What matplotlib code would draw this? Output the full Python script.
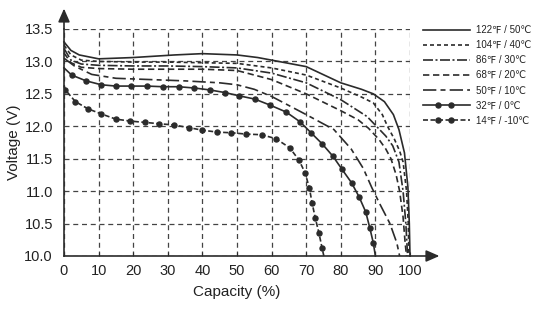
import matplotlib.pyplot as plt
from matplotlib.lines import Line2D
from matplotlib.legend_handler import HandlerLine2D
import numpy as np

plt.rcParams['font.family'] = ['Liberation Sans', 'DejaVu Sans']

# capacity (%) / voltage (V)
x_122 = [0, 2, 4.4, 10, 20, 32, 40, 50, 56, 61, 70, 80, 86, 89.4, 92.6, 95.2, 96.8, 98.4, 99.4, 99.8, 100]
v_122 = [13.30, 13.17, 13.10, 13.04, 13.06, 13.10, 13.12, 13.10, 13.06, 13.01, 12.92, 12.67, 12.57, 12.50, 12.38, 12.18, 11.95, 11.59, 11.06, 10.5, 10.0]

x_104 = [0, 2, 5, 10, 20, 30, 40, 50, 60, 70, 80, 86, 89.4, 92, 93.5, 95.5, 97, 98, 99, 99.5, 99.7]
v_104 = [13.25, 13.10, 13.02, 13.00, 12.99, 12.99, 12.98, 12.97, 12.90, 12.79, 12.59, 12.45, 12.36, 12.18, 12.0, 11.8, 11.62, 11.45, 11.0, 10.5, 10.0]

x_86 = [0, 2, 5, 10, 20, 30, 40, 50, 60, 70, 80, 87.6, 90.3, 93, 95, 96.8, 98, 98.8, 99.3]
v_86 = [13.20, 13.02, 12.96, 12.94, 12.93, 12.93, 12.92, 12.90, 12.82, 12.67, 12.41, 12.15, 12.0, 11.85, 11.7, 11.45, 11.0, 10.5, 10.0]

x_68 = [0, 2, 5, 10, 20, 30, 40, 50, 60, 70, 80, 85, 88, 91, 93, 94.5, 96, 97, 98, 98.6, 99]
v_68 = [13.13, 12.98, 12.91, 12.89, 12.88, 12.88, 12.88, 12.86, 12.72, 12.50, 12.24, 12.10, 11.97, 11.8, 11.65, 11.5, 11.25, 11.0, 10.6, 10.2, 10.0]

x_50 = [0, 3, 8, 15, 25, 35, 45, 50, 55, 60, 70, 78, 83, 86.5, 89, 91.3, 94.2, 96.2, 97]
v_50 = [13.05, 12.93, 12.80, 12.74, 12.72, 12.70, 12.67, 12.64, 12.57, 12.46, 12.18, 11.95, 11.65, 11.35, 11.05, 10.8, 10.5, 10.2, 10.0]

x_32 = [0, 2.2, 6.4, 10.8, 15, 19.4, 23.9, 28.6, 33.1, 37.7, 42.2, 46.5, 50.6, 55.1, 59.4, 64.2,
        68.2, 71.4, 74.6, 77.7, 80.3, 83.1, 85.3, 87.2, 88.4, 89.4, 90]
v_32 = [12.90, 12.79, 12.70, 12.64, 12.62, 12.62, 12.62, 12.61, 12.61, 12.59, 12.56, 12.52, 12.47, 12.42, 12.33, 12.22,
        12.07, 11.90, 11.73, 11.54, 11.34, 11.13, 10.91, 10.68, 10.43, 10.20, 10.0]

x_14 = [0, 0.4, 3.3, 6.9, 10.8, 15, 19.2, 23.3, 27.5, 31.7, 36, 40, 44.3, 48.4, 52.6, 57.1, 61.2, 65.2,
        67.9, 69.7, 70.9, 71.7, 72.6, 73.7, 74.6, 75.1]
v_14 = [12.63, 12.56, 12.38, 12.27, 12.19, 12.11, 12.08, 12.06, 12.04, 12.02, 11.98, 11.94, 11.91, 11.90, 11.88, 11.87, 11.81, 11.67,
        11.48, 11.28, 11.05, 10.82, 10.59, 10.35, 10.12, 10.0]

labels = ["122\u2109 / 50\u2103", "104\u2109 / 40\u2103", "86\u2109 / 30\u2103", "68\u2109 / 20\u2103",
          "50\u2109 / 10\u2103", "32\u2109 / 0\u2103", "14\u2109 / -10\u2103"]

xticks = [0, 10, 20, 30, 40, 50, 60, 70, 80, 90, 100]
yticks = [10.0, 10.5, 11.0, 11.5, 12.0, 12.5, 13.0, 13.5]

col = "#2b2b2b"
lw = 1.2
styles = [
    "-",
    (0, (2.4, 1.8)),
    (0, (6, 1.5, 1.2, 1.5)),
    (0, (3.8, 2.2)),
    (0, (8, 2.5, 3, 2.5)),
    "-",
    (0, (3, 1.5)),
]


class DotLineHandler(HandlerLine2D):
    ## full-width line with two dots at about 1/3 and 2/3
    def create_artists(self, legend, orig_handle, xdescent, ydescent, width, height, fontsize, trans):
        y = height / 2.0 - ydescent
        line = Line2D([-xdescent, width - xdescent], [y, y])
        line.update_from(orig_handle)
        line.set_marker("None")
        dots = Line2D([width * 0.33 - xdescent, width * 0.6 - xdescent], [y, y])
        dots.update_from(orig_handle)
        dots.set_linestyle("None")
        line.set_transform(trans)
        dots.set_transform(trans)
        return [line, dots]


fig = plt.figure(figsize=(5.39, 3.22), dpi=100)
ax = fig.add_axes([64 / 539, 66 / 322, 346 / 539, 227 / 322])

series = [(x_122, v_122), (x_104, v_104), (x_86, v_86), (x_68, v_68), (x_50, v_50), (x_32, v_32), (x_14, v_14)]
for i, (xs, vs) in enumerate(series):
    ax.plot(xs, vs, color=col, lw=lw, ls=styles[i], clip_on=False, zorder=3)
    if i >= 5:
        ax.plot(xs[1:-1], vs[1:-1], ls="none", marker="o", ms=3.6, color=col, zorder=4)

ax.set_xlim(0, 100)
ax.set_ylim(10, 13.5)
ax.set_xticks(xticks)
ax.set_yticks(yticks)
ax.set_yticklabels(["%.1f" % v for v in yticks])
ax.grid(True, color="#444444", ls=(0, (4, 3)), lw=0.9)
for s in ["top", "right"]:
    ax.spines[s].set_visible(False)
for s in ["left", "bottom"]:
    ax.spines[s].set_color(col)
    ax.spines[s].set_linewidth(1.2)
ax.tick_params(axis="y", length=0, pad=8, labelsize=10.5, labelcolor="#222222")
ax.tick_params(axis="x", length=3, direction="in", pad=6, labelsize=10.5, labelcolor="#222222", color=col)
ax.set_xlabel("Capacity (%)", fontsize=11, color="#222222", labelpad=5)
ax.set_ylabel("Voltage (V)", fontsize=11, color="#222222", labelpad=2)

# axis arrows
ax.annotate("", xy=(1.085, 0), xytext=(1.0, 0), xycoords="axes fraction",
            arrowprops=dict(arrowstyle="-|>,head_length=0.8,head_width=0.35", color=col, lw=1.2,
                            shrinkA=0, shrinkB=0))
ax.annotate("", xy=(0, 1.09), xytext=(0, 1.0), xycoords="axes fraction",
            arrowprops=dict(arrowstyle="-|>,head_length=0.8,head_width=0.35", color=col, lw=1.2,
                            shrinkA=0, shrinkB=0))

handles = []
for i in range(7):
    if i >= 5:
        h = Line2D([], [], color=col, lw=lw, ls=styles[i], marker="o", ms=3.6)
    else:
        h = Line2D([], [], color=col, lw=lw, ls=styles[i])
    handles.append(h)
leg = fig.legend(handles, labels, loc="upper left", bbox_to_anchor=(423 / 539, 1 - 25 / 322),
                 frameon=False, fontsize=7, handlelength=4.8, handletextpad=0.7,
                 labelspacing=0.52, borderpad=0, borderaxespad=0,
                 handler_map={h: DotLineHandler() for h in handles[5:]})
for t in leg.get_texts():
    t.set_color("#222222")

fig.savefig("out.png", dpi=100)
